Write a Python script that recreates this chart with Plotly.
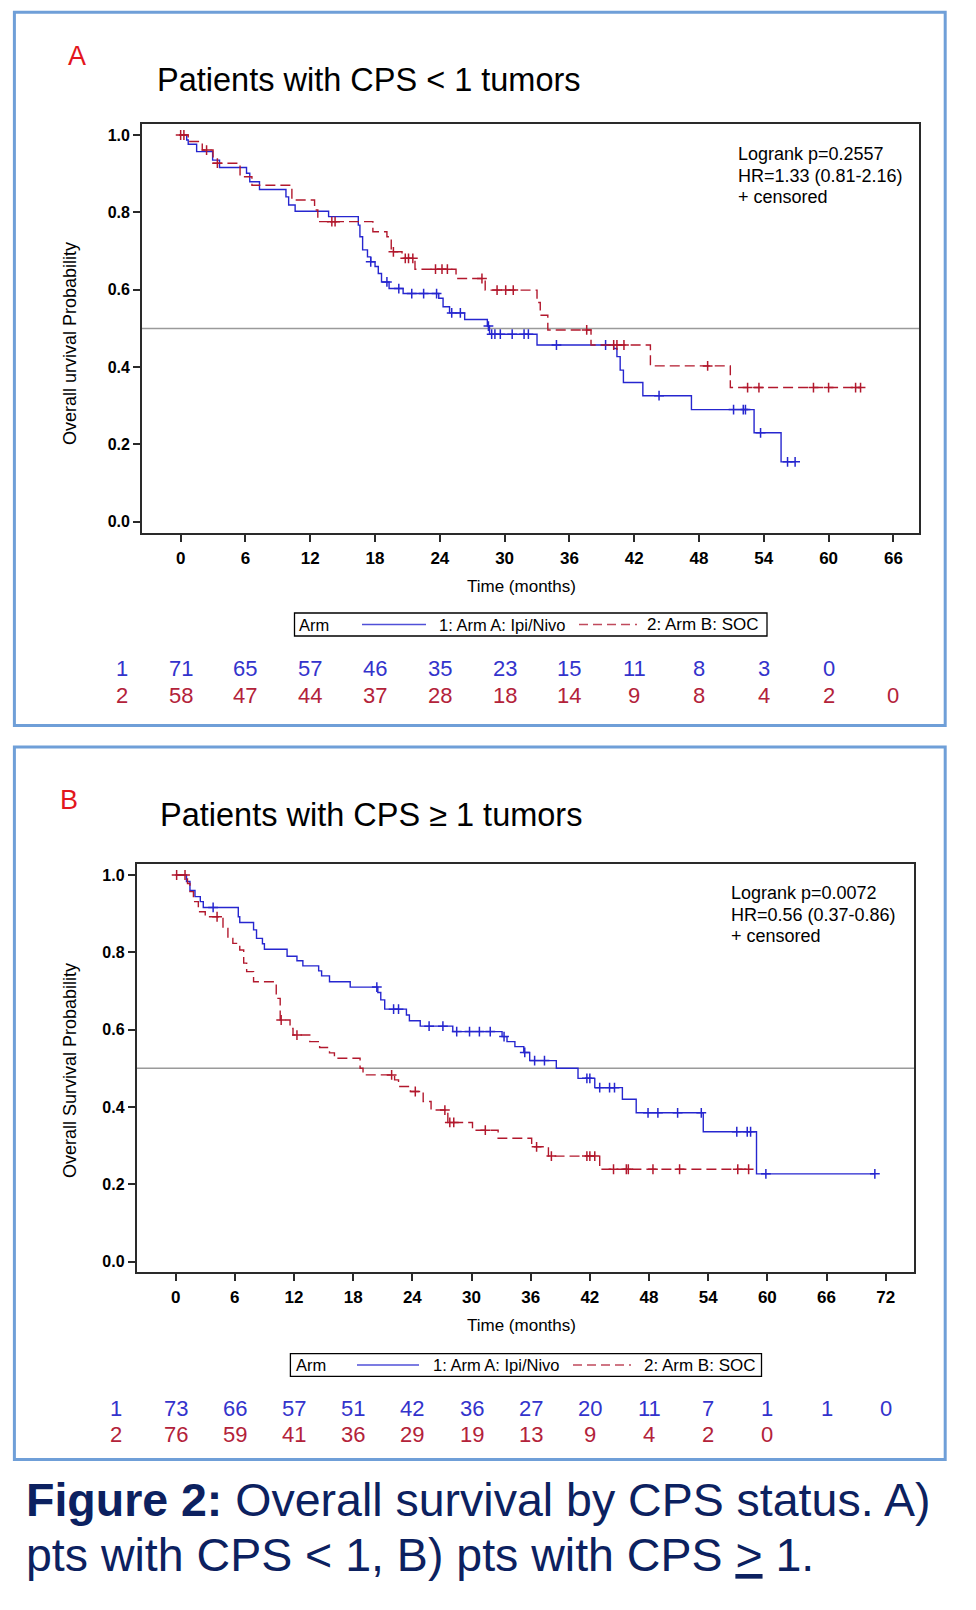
import numpy as np
import plotly.graph_objects as go

W, H = 976, 1610
def px(x): return x / W
def py(y): return 1 - y / H

FONT = "Liberation Sans, Arial, sans-serif"
BLUE = "#2626cf"
RED = "#b2182d"
BLUE_T = "#3333cc"
RED_T = "#b3223a"

# ---------------- Panel A (CPS < 1) ----------------
a1_t = [0, 0.56, 0.7, 1.48, 2.96, 3.6, 6.1, 6.4, 7.3, 9.75, 10.0, 10.6, 13.7, 16.45, 16.6, 16.85,
        17.3, 17.6, 18.0, 18.3, 18.6, 19.3, 20.6, 23.9, 24.3, 24.9, 26.3, 28.4, 28.6, 33.0,
        40.1, 40.4, 40.7, 41.0, 42.8, 47.3, 53.1, 55.6]
a1_s = [1.0, 0.987, 0.976, 0.957, 0.935, 0.916, 0.901, 0.879, 0.859, 0.84, 0.819, 0.803, 0.789, 0.767,
        0.737, 0.703, 0.685, 0.672, 0.66, 0.642, 0.62, 0.603, 0.59, 0.578, 0.556, 0.54, 0.523, 0.506,
        0.485, 0.457, 0.448, 0.427, 0.392, 0.36, 0.326, 0.29, 0.23, 0.155]
a1_cens = [17.6, 19.1, 20.2, 21.4, 22.5, 23.7, 25.1, 25.9, 28.5, 28.8, 29.1, 29.6, 30.7, 31.8, 32.2,
           34.8, 39.35, 44.3, 51.2, 52.1, 52.3, 53.7, 56.2, 56.9]

a2_t = [0, 0.7, 2.0, 3.0, 5.5, 6.6, 10.3, 12.4, 12.7, 17.8, 19.1, 19.5, 20.5, 21.7, 25.5, 28.2,
        33.0, 33.3, 34.0, 38.0, 43.5, 50.9]
a2_s = [1.0, 0.983, 0.961, 0.927, 0.892, 0.87, 0.832, 0.806, 0.776, 0.75, 0.737, 0.698, 0.681, 0.653,
        0.629, 0.599, 0.567, 0.534, 0.496, 0.457, 0.403, 0.347]
a2_cens = [0.0, 0.3, 2.4, 3.4, 14.0, 14.3, 19.7, 20.8, 21.1, 21.5, 23.6, 24.2, 24.7, 27.9, 29.3, 30.1,
           30.8, 37.6, 40.1, 40.4, 41.05, 48.8, 52.5, 53.55, 58.6, 60.0, 62.5, 62.96]

a_ticks = [0, 6, 12, 18, 24, 30, 36, 42, 48, 54, 60, 66]
a1_risk = [71, 65, 57, 46, 35, 23, 15, 11, 8, 3, 0]
a2_risk = [58, 47, 44, 37, 28, 18, 14, 9, 8, 4, 2, 0]
a_stats = ["Logrank p=0.2557", "HR=1.33 (0.81-2.16)", "+ censored"]

# ---------------- Panel B (CPS >= 1) ----------------
b1_t = [0, 1.1, 1.45, 1.96, 2.5, 2.8, 6.35, 6.5, 7.9, 8.2, 8.8, 9.0, 11.3, 12.3, 12.9, 14.5, 14.8,
        15.6, 17.7, 20.5, 20.8, 21.2, 23.4, 23.7, 24.8, 28.1, 33.1, 33.6, 34.4, 35.3, 35.9, 38.6,
        40.8, 42.5, 45.3, 46.7, 53.5, 58.9]
b1_s = [1.0, 0.983, 0.96, 0.944, 0.931, 0.916, 0.892, 0.877, 0.858, 0.836, 0.822, 0.808, 0.79, 0.778,
        0.765, 0.752, 0.739, 0.724, 0.71, 0.696, 0.677, 0.653, 0.638, 0.623, 0.609, 0.595, 0.582,
        0.569, 0.556, 0.541, 0.52, 0.5, 0.474, 0.45, 0.42, 0.385, 0.336, 0.227]
b1_cens = [3.8, 20.4, 22.1, 22.6, 25.7, 27.1, 28.5, 29.8, 30.8, 31.9, 33.3, 35.4, 36.4, 37.4, 41.7,
           42.0, 43.0, 44.0, 44.5, 47.9, 48.9, 50.9, 53.3, 56.9, 57.96, 58.3, 59.85, 70.9]

b2_t = [0, 1.2, 1.45, 1.8, 2.3, 3.0, 4.8, 5.3, 5.8, 6.5, 6.9, 7.2, 7.9, 10.2, 10.6, 11.6, 11.9, 13.6,
        14.6, 15.6, 16.1, 18.7, 19.0, 22.2, 22.6, 23.8, 25.1, 25.9, 27.6, 30.1, 32.7, 36.1, 37.8, 43.0]
b2_s = [1.0, 0.978, 0.957, 0.931, 0.905, 0.892, 0.862, 0.836, 0.823, 0.806, 0.772, 0.75, 0.724, 0.681,
        0.625, 0.603, 0.586, 0.569, 0.554, 0.54, 0.526, 0.5, 0.483, 0.47, 0.453, 0.44, 0.414, 0.392,
        0.36, 0.34, 0.319, 0.297, 0.273, 0.239]
b2_cens = [0.1, 0.95, 4.2, 10.7, 12.3, 21.9, 24.3, 27.3, 27.8, 28.2, 31.4, 36.6, 38.1, 41.7, 42.0,
           42.5, 44.4, 45.7, 45.9, 48.4, 51.1, 57.0, 58.1]

b_ticks = [0, 6, 12, 18, 24, 30, 36, 42, 48, 54, 60, 66, 72]
b1_risk = [73, 66, 57, 51, 42, 36, 27, 20, 11, 7, 1, 1, 0]
b2_risk = [76, 59, 41, 36, 29, 19, 13, 9, 4, 2, 0]
b_stats = ["Logrank p=0.0072", "HR=0.56 (0.37-0.86)", "+ censored"]

y_ticks = [0.0, 0.2, 0.4, 0.6, 0.8, 1.0]
arm_labels = ["1", "2"]
legend_labels = ["Arm", "1: Arm A: Ipi/Nivo", "2: Arm B: SOC"]


def km_xy(times, surv, cens):
    end = max(times[-1], max(cens))
    return list(times) + [end], list(surv) + [surv[-1]]


def cens_y(times, surv, cens):
    t = np.asarray(times)
    s = np.asarray(surv)
    idx = np.searchsorted(t, np.asarray(cens), side="right") - 1
    return s[idx].tolist()


fig = go.Figure()

for (t, s, c, xa, ya) in [(a1_t, a1_s, a1_cens, "x", "y"), (b1_t, b1_s, b1_cens, "x2", "y2")]:
    x, y = km_xy(t, s, c)
    fig.add_trace(go.Scatter(x=x, y=y, mode="lines", line=dict(color=BLUE, width=1.4, shape="hv"),
                             xaxis=xa, yaxis=ya, showlegend=False, hoverinfo="skip"))
    fig.add_trace(go.Scatter(x=c, y=cens_y(t, s, c), mode="markers",
                             marker=dict(symbol="cross-thin", size=7, line=dict(color=BLUE, width=1.5)),
                             xaxis=xa, yaxis=ya, showlegend=False, hoverinfo="skip"))

for (t, s, c, xa, ya) in [(a2_t, a2_s, a2_cens, "x", "y"), (b2_t, b2_s, b2_cens, "x2", "y2")]:
    x, y = km_xy(t, s, c)
    fig.add_trace(go.Scatter(x=x, y=y, mode="lines",
                             line=dict(color=RED, width=1.4, shape="hv", dash="10px,5px"),
                             xaxis=xa, yaxis=ya, showlegend=False, hoverinfo="skip"))
    fig.add_trace(go.Scatter(x=c, y=cens_y(t, s, c), mode="markers",
                             marker=dict(symbol="cross-thin", size=7, line=dict(color=RED, width=1.5)),
                             xaxis=xa, yaxis=ya, showlegend=False, hoverinfo="skip"))

axis_common = dict(showgrid=False, zeroline=False, showline=True, mirror=True, linecolor="#2a2a2a",
                   linewidth=1.8, ticks="outside", ticklen=7, tickwidth=1.5, tickcolor="#2a2a2a")
xtickfont = dict(family=FONT, size=17, color="black", weight="bold")
ytickfont = dict(family=FONT, size=16, color="black", weight="bold")

fig.update_layout(
    width=W, height=H, margin=dict(l=0, r=0, t=0, b=0),
    paper_bgcolor="white", plot_bgcolor="white", showlegend=False,
    font=dict(family=FONT, color="black"),
    xaxis=dict(domain=[px(142), px(919.3)], range=[-3.58, 68.4], anchor="y",
               tickvals=a_ticks, ticklabelstandoff=2, tickfont=xtickfont, **axis_common),
    yaxis=dict(domain=[py(533), py(124)], range=[-0.029, 1.0284], anchor="x",
               tickvals=y_ticks, tickformat=".1f", ticklabelstandoff=0, tickfont=ytickfont, **axis_common),
    xaxis2=dict(domain=[px(136.7), px(914.3)], range=[-3.95, 74.9], anchor="y2",
                tickvals=b_ticks, ticklabelstandoff=2, tickfont=xtickfont, **axis_common),
    yaxis2=dict(domain=[py(1271.7), py(864)], range=[-0.026, 1.0284], anchor="x2",
                tickvals=y_ticks, tickformat=".1f", ticklabelstandoff=0, tickfont=ytickfont, **axis_common),
)

shapes = []
annotations = []

# panel frames
for (y0, y1) in [(12.3, 725.6), (747.1, 1459.4)]:
    shapes.append(dict(type="rect", xref="paper", yref="paper", x0=px(14.4), x1=px(945.2),
                       y0=py(y1), y1=py(y0), line=dict(color="#6f9fd8", width=3)))
# median reference lines
for xa, ya in [("x", "y"), ("x2", "y2")]:
    shapes.append(dict(type="line", xref=f"{xa} domain", yref=ya, x0=0, x1=1, y0=0.5, y1=0.5,
                       line=dict(color="#9a9a9a", width=1.5), layer="below"))


def text(x, y, s, size, color="black", xanchor="left", yanchor="middle", angle=0, family=FONT):
    annotations.append(dict(x=px(x), y=py(y), xref="paper", yref="paper", text=s, showarrow=False,
                            xanchor=xanchor, yanchor=yanchor, textangle=angle, align="left",
                            font=dict(family=family, size=size, color=color)))


def legend(x0, x1, y0, y1, arm_x, bl0, bl1, t1x, rl0, rl1, t2x):
    yc = (y0 + y1) / 2
    shapes.append(dict(type="rect", xref="paper", yref="paper", x0=px(x0), x1=px(x1),
                       y0=py(y1), y1=py(y0), line=dict(color="black", width=1.3)))
    shapes.append(dict(type="line", xref="paper", yref="paper", x0=px(bl0), x1=px(bl1),
                       y0=py(yc), y1=py(yc), line=dict(color="#5050d8", width=1.5)))
    shapes.append(dict(type="line", xref="paper", yref="paper", x0=px(rl0), x1=px(rl1),
                       y0=py(yc), y1=py(yc), line=dict(color="#c04a5c", width=1.5, dash="9px,5px")))
    text(arm_x, yc, legend_labels[0], 16.5)
    text(t1x, yc, legend_labels[1], 16.5)
    text(t2x, yc, legend_labels[2], 17)


legend(294.5, 767, 613, 636, 297, 362, 426, 437, 579, 637, 645)
legend(290.4, 761.5, 1353.7, 1376.3, 294, 357, 419, 431, 573, 631, 642)

# panel letters and titles
text(77, 56, "A", 27, color="#e3161c", xanchor="center")
text(155, 80, "Patients with CPS &lt; 1 tumors", 32.5)
text(69, 800, "B", 27, color="#e3161c", xanchor="center")
text(158, 815, "Patients with CPS ≥ 1 tumors", 32.5)

# stats text (one annotation per line)
for i, line in enumerate(a_stats):
    text(736, 154 + 21.7 * i, line, 18)
for i, line in enumerate(b_stats):
    text(729, 893 + 21.7 * i, line, 18)

# axis titles
text(70, 344, "Overall urvival Probability", 18, xanchor="center", angle=-90)
text(70, 1071, "Overall Survival Probability", 18, xanchor="center", angle=-90)
text(521, 586, "Time (months)", 17, xanchor="center")
text(521, 1325, "Time (months)", 17, xanchor="center")

# numbers at risk (positioned on the time axis of each panel)
RISK_SIZE = 22
for (xref, lx, ticks, r1, r2, y1, y2) in [("x", 122, a_ticks, a1_risk, a2_risk, 668, 695),
                                          ("x2", 116, b_ticks, b1_risk, b2_risk, 1408, 1434)]:
    text(lx, y1, arm_labels[0], RISK_SIZE, color=BLUE_T, xanchor="center")
    text(lx, y2, arm_labels[1], RISK_SIZE, color=RED_T, xanchor="center")
    for tk, v in zip(ticks, r1):
        annotations.append(dict(x=tk, y=py(y1), xref=xref, yref="paper", text=str(v), showarrow=False,
                                xanchor="center", yanchor="middle",
                                font=dict(family=FONT, size=RISK_SIZE, color=BLUE_T)))
    for tk, v in zip(ticks, r2):
        annotations.append(dict(x=tk, y=py(y2), xref=xref, yref="paper", text=str(v), showarrow=False,
                                xanchor="center", yanchor="middle",
                                font=dict(family=FONT, size=RISK_SIZE, color=RED_T)))

# caption
NAVY = "#0c2160"
text(24, 1500, "<b>Figure 2:</b> Overall survival by CPS status. A)", 46.5, color=NAVY)
text(24, 1555, "pts with CPS &lt; 1, B) pts with CPS <u>&gt;</u> 1.", 46.5, color=NAVY)

fig.update_layout(shapes=shapes, annotations=annotations)
fig.write_html("out.html")
